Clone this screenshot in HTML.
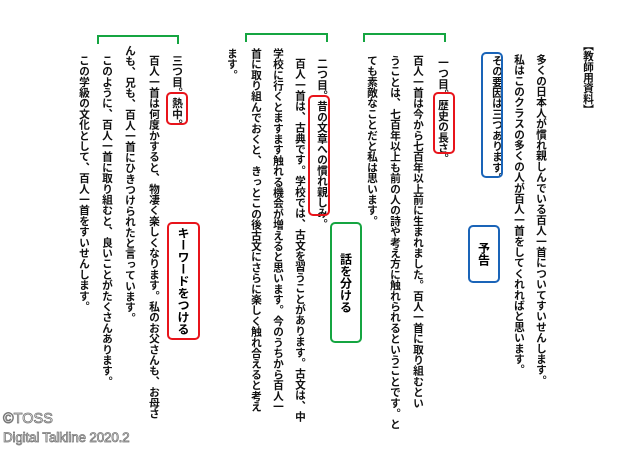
<!DOCTYPE html>
<html><head><meta charset="utf-8"><style>
html,body{margin:0;padding:0;background:#fff;}
body{width:640px;height:453px;position:relative;overflow:hidden;font-family:"Liberation Sans","Noto Sans CJK JP",sans-serif;}
.c{position:absolute;writing-mode:vertical-rl;font-size:10.7px;font-weight:bold;line-height:12px;width:12px;white-space:nowrap;color:#111;}
.b{position:absolute;border:2.5px solid;border-radius:5px;box-sizing:border-box;}
.red{border-color:#e8141b;}
.blue{border-color:#1a64b8;}
.green{border-color:#15a541;}
.br{position:absolute;border:2px solid #15a541;border-bottom:none;height:9px;box-sizing:border-box;}
.lbl{position:absolute;writing-mode:vertical-rl;font-size:12px;font-weight:bold;display:flex;align-items:center;justify-content:center;box-sizing:border-box;}
.cp{position:absolute;left:3px;color:#fff;-webkit-text-stroke:0.8px #777;font-family:"Liberation Sans",sans-serif;}
</style></head><body>
<div class="c" style="left:582px;top:40px">【教師用資料】</div>
<div class="c" style="left:535px;top:54px">多くの日本人が慣れ親しんでいる百人一首についてすいせんします。</div>
<div class="c" style="left:513px;top:54px">私はこのクラスの多くの人が百人一首をしてくれればと思います。</div>
<div class="c" style="left:491px;top:55px">その要因は三つあります。</div>
<div class="b blue" style="left:481px;top:52px;width:22px;height:126px"></div>
<div class="b blue lbl" style="left:468px;top:225px;width:32px;height:58px">予告</div>

<div class="br" style="left:363px;top:33px;width:83px"></div>
<div class="c" style="left:437px;top:57px">一つ目。歴史の長さ。</div>
<div class="b red" style="left:433px;top:92px;width:22px;height:62px"></div>
<div class="c" style="left:412px;top:55px">百人一首は今から七百年以上前に生まれました。百人一首に取り組むとい</div>
<div class="c" style="left:389px;top:55px">うことは、七百年以上も前の人の詩や考え方に触れられるということです。と</div>
<div class="c" style="left:366px;top:55px">ても素敵なことだと私は思います。</div>
<div class="b green lbl" style="left:330px;top:222px;width:32px;height:121px">話を分ける</div>

<div class="br" style="left:245px;top:33px;width:83px"></div>
<div class="c" style="left:316px;top:58px">二つ目。昔の文章への慣れ親しみ。</div>
<div class="b red" style="left:308px;top:95px;width:22px;height:121px"></div>
<div class="c" style="left:294px;top:58px">百人一首は、古典です。学校では、古文を習うことがあります。古文は、中</div>
<div class="c" style="left:272px;top:48px">学校に行くとますます触れる機会が増えると思います。今のうちから百人一</div>
<div class="c" style="left:250px;top:48px">首に取り組んでおくと、きっとこの後古文にさらに楽しく触れ合えると考え</div>
<div class="c" style="left:226px;top:48px">ます。</div>

<div class="br" style="left:97px;top:35px;width:82px"></div>
<div class="c" style="left:171px;top:55px">三つ目。熱中。</div>
<div class="b red" style="left:166px;top:92px;width:22px;height:33px"></div>
<div class="b red lbl" style="left:167px;top:222px;width:33px;height:118px">キーワードをつける</div>
<div class="c" style="left:148px;top:55px">百人一首は何度かすると、物凄く楽しくなります。私のお父さんも、お母さ</div>
<div class="c" style="left:124px;top:45px">んも、兄も、百人一首にひきつけられたと言っています。</div>
<div class="c" style="left:101px;top:55px">このように、百人一首に取り組むと、良いことがたくさんあります。</div>
<div class="c" style="left:78px;top:55px">この学級の文化として、百人一首をすいせんします。</div>

<div class="cp" style="top:411px;font-size:14.5px">©TOSS</div>
<div class="cp" style="top:430px;font-size:13.5px;letter-spacing:-0.2px">Digital Talkline 2020.2</div>
</body></html>
